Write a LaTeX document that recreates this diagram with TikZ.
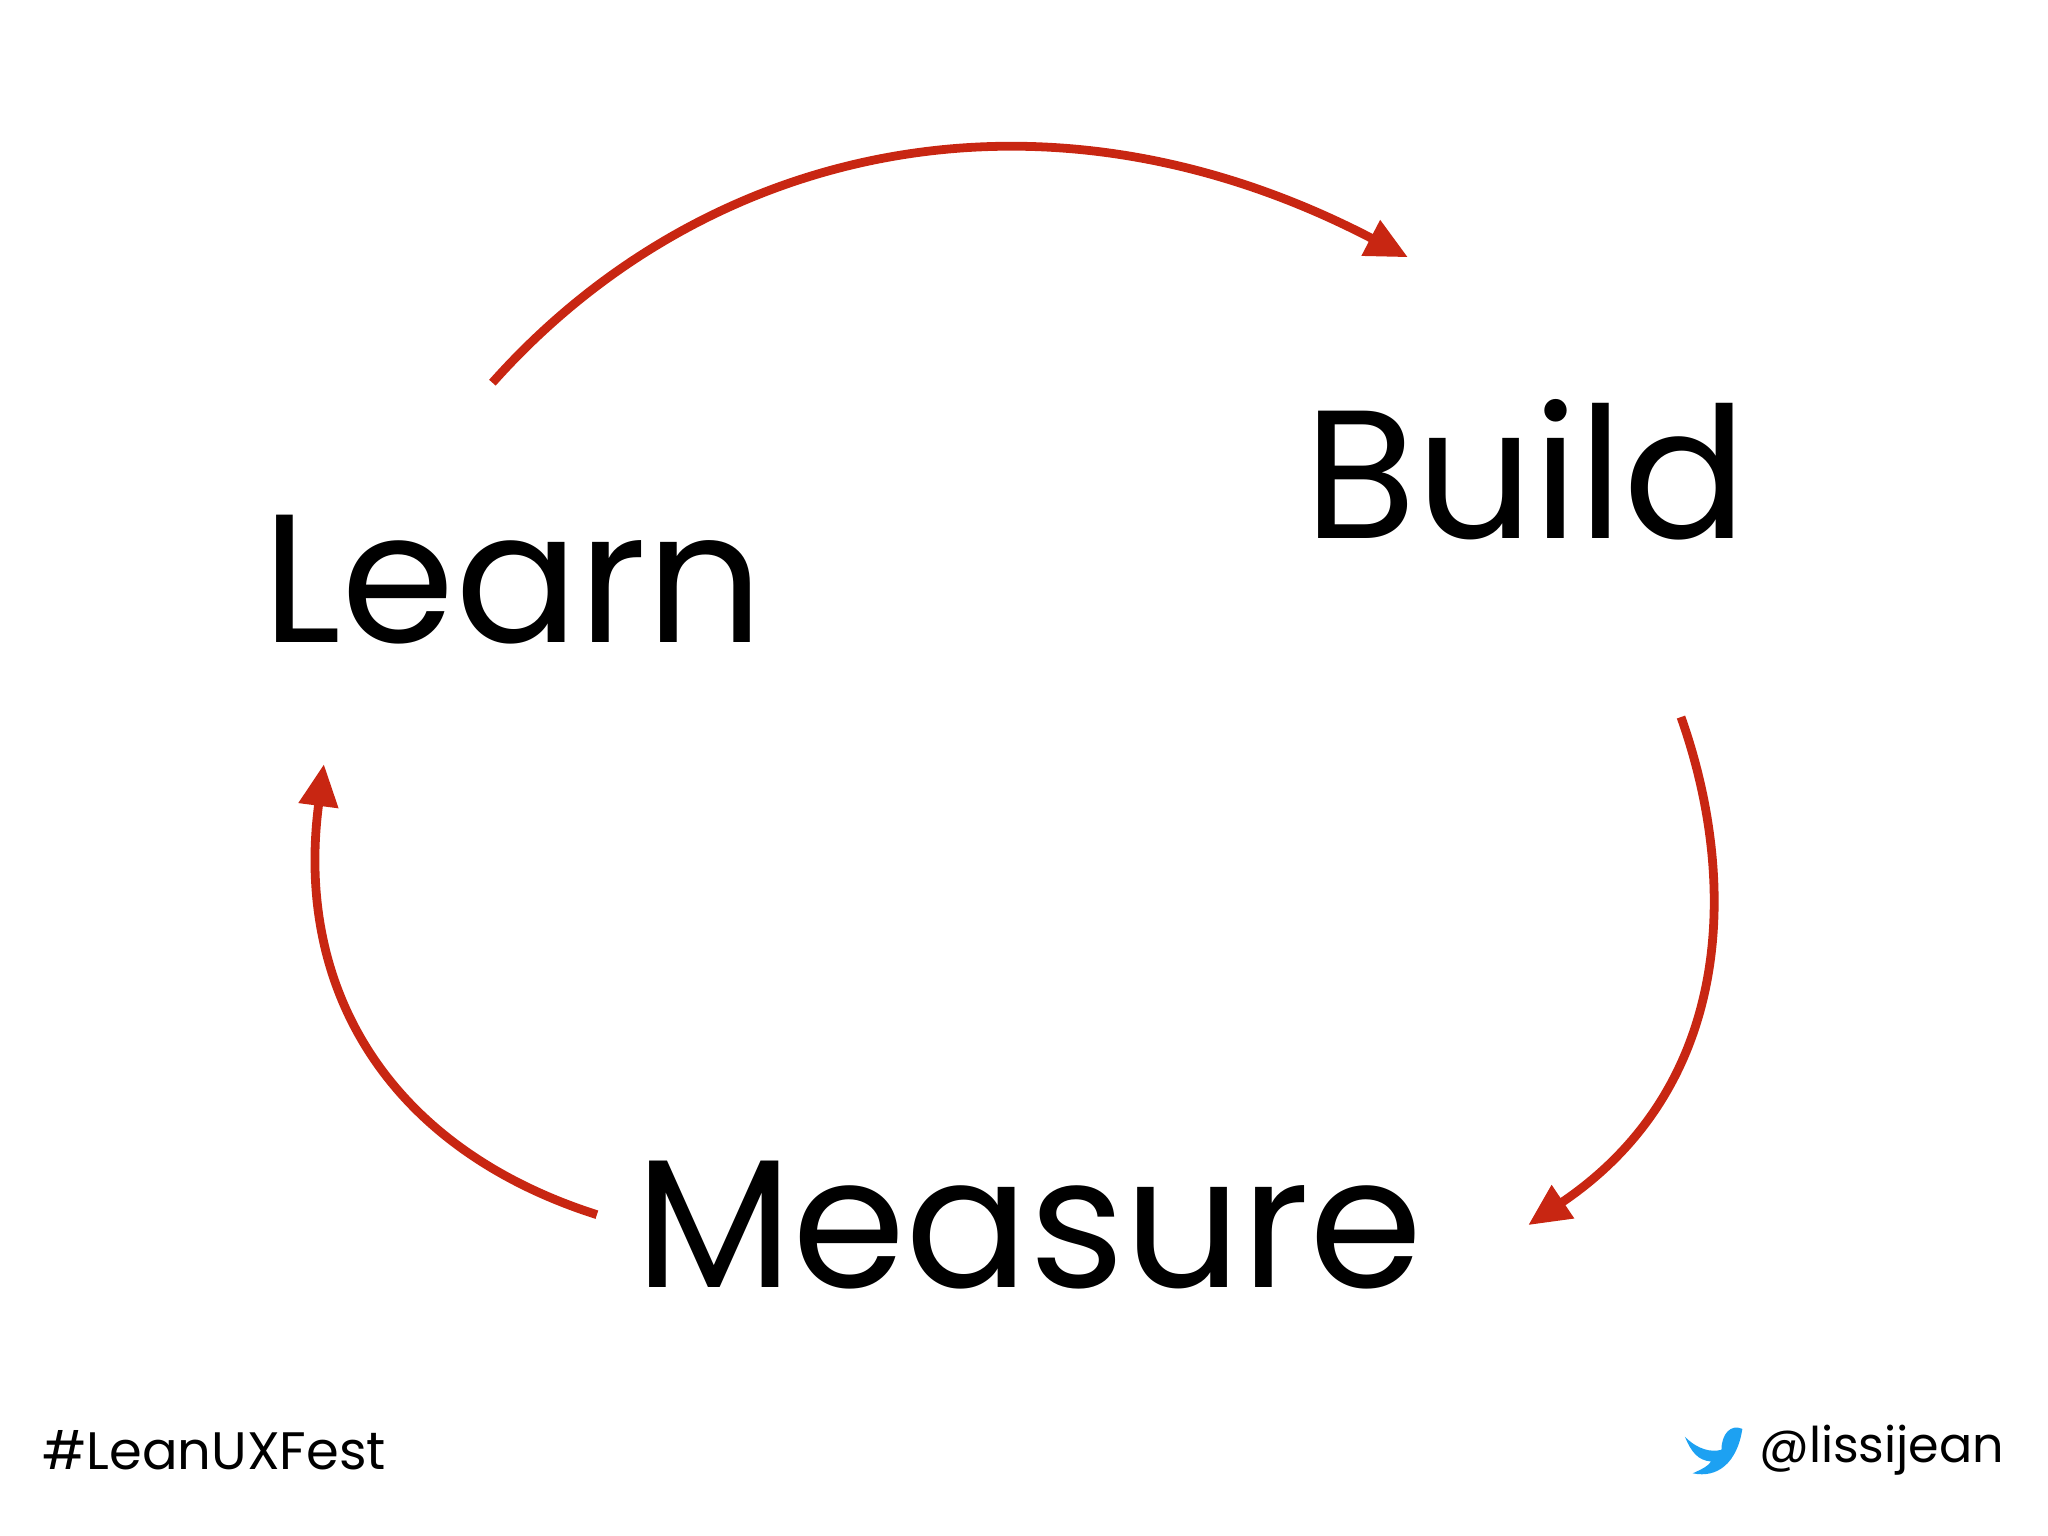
\documentclass[tikz,border=0pt]{standalone}
\usepackage{fontspec}
\setmainfont{Poppins}
\usetikzlibrary{arrows.meta}
\definecolor{arr}{RGB}{200,38,18}
\definecolor{tw}{RGB}{29,161,242}
\begin{document}
\begin{tikzpicture}[x=0.01306cm,y=-0.01306cm,
  big/.style={font=\fontsize{52}{56}\selectfont,inner sep=0,anchor=base},
  small/.style={font=\fontsize{15}{18}\selectfont,inner sep=0,anchor=base},
  cyc/.style={draw=arr,line width=2.5pt,-{Triangle[length=0.42cm,width=0.38cm]}}]
\useasboundingbox (0,0) rectangle (1568,1176);
\node[big] (learn) at (393,492) {Learn};
\node[big] (build) at (1168,412) {Build};
\node[big] (measure) at (788,986) {Measure};
\node[small,anchor=base west] (tag) at (32,1125) {\#LeanUXFest};
\node[small,anchor=base east,font=\fontsize{14}{17}\selectfont] (handle) at (1535,1120) {@lissijean};
\coordinate (a1) at (377,293); \coordinate (b1) at (1078,197);
\coordinate (a2) at (1287,549); \coordinate (b2) at (1170,938);
\coordinate (a3) at (457,930); \coordinate (b3) at (248,585);
\draw[cyc] (a1) .. controls (540,110) and (800,52) .. (b1);
\draw[cyc] (a2) .. controls (1330,670) and (1330,830) .. (b2);
\draw[cyc] (a3) .. controls (300,880) and (225,760) .. (b3);
\fill[tw] (1290,1100) .. controls (1300,1110) and (1310,1112) .. (1318,1110)
  .. controls (1318,1098) and (1325,1090) .. (1334,1094)
  .. controls (1330,1120) and (1315,1132) .. (1296,1128)
  .. controls (1305,1124) and (1308,1122) .. (1310,1119)
  .. controls (1300,1118) and (1295,1112) .. (1290,1100) -- cycle;
\end{tikzpicture}
\end{document}
